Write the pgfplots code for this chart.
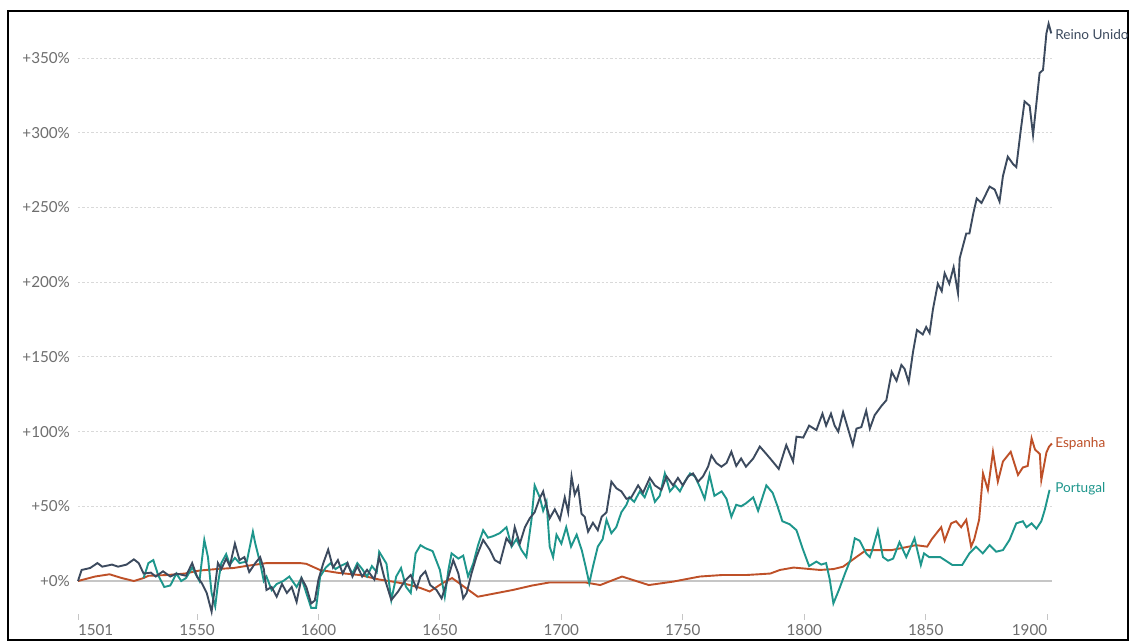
\documentclass[border=0pt]{standalone}
\usepackage{fontspec}
\setmainfont{Lato}
\usepackage{pgfplots}
\pgfplotsset{compat=1.18}
\definecolor{uk}{HTML}{3C4A5E}
\definecolor{es}{HTML}{BE5028}
\definecolor{pt}{HTML}{1E968C}
\definecolor{ticktext}{HTML}{6E6E6E}
\begin{document}
\begin{tikzpicture}
\path[use as bounding box] (0,0) rectangle (566pt,320.5pt);
\fill[white] (0,0) rectangle (566pt,320.5pt);
\draw[black, line width=1.1pt] (4pt,0.3pt) rectangle (564pt,315pt);
\begin{axis}[
  at={(39pt,13.55pt)}, anchor=south west,
  scale only axis, width=487pt, height=296.6pt,
  xmin=1501, xmax=1902, ymin=-22, ymax=375,
  clip=false,
  axis x line*=bottom, axis y line*=left,
  axis line style={draw=none},
  xtick={1501,1550,1600,1650,1700,1750,1800,1850,1900},
  xticklabels={\rlap{1501},1550,1600,1650,1700,1750,1800,1850,\llap{1900}},
  ytick={50,100,150,200,250,300,350},
  yticklabels={+50\%,+100\%,+150\%,+200\%,+250\%,+300\%,+350\%},
  extra y ticks={0},
  extra y tick labels={+0\%},
  extra y tick style={grid style={solid, draw=gray!45, line width=0.9pt}},
  ymajorgrids,
  grid style={draw=gray!30, line width=0.5pt, dash pattern=on 1.2pt off 1pt},
  ytick style={draw=none},
  xtick style={draw=gray!45, line width=0.5pt},
  major tick length=3pt,
  tick align=outside,
  tick label style={font=\fontsize{7.6}{9}\selectfont, text=ticktext},
  yticklabel style={anchor=east, xshift=2.5pt},
  xticklabel style={yshift=1.2pt},
]
% Spain
\addplot[es, line width=0.95pt] coordinates {
(1501,0) (1508,3) (1514,4.5) (1519,2) (1524,0) (1528,2) (1530,3.5) (1537.5,4) (1545,5) (1551,7) (1558,8) (1565,8.7) (1570,10) (1578.6,12) (1585,12) (1592.5,12) (1595,11.5) (1600.6,7.4) (1608,5.5) (1617,4) (1625,1) (1630.6,-0.4) (1636,-2) (1641.7,-4.5) (1645.8,-7) (1651,-1.5) (1655,2) (1659,-2.7) (1665.6,-10.5) (1672,-8.5) (1680,-6) (1688,-3) (1695,-1) (1710,-1) (1716,-2.7) (1725,3) (1736,-2.7) (1746,-0.4) (1757,3) (1766,4) (1776,4) (1786,5) (1790,7.4) (1795.6,9) (1806.5,7.4) (1812,8) (1816,9.6) (1821.4,16) (1825.5,20.7) (1836,20.7) (1846,24) (1850.6,23) (1852.5,28) (1856.4,36) (1857.8,27) (1860.5,38.6) (1862.5,40) (1864.6,36) (1866.7,41) (1868.7,23) (1870,28) (1872,41) (1873.6,72) (1875.6,61) (1877.7,86.5) (1879.7,66.5) (1881.8,80) (1885,86.5) (1888,71) (1890,76) (1892,77) (1893.6,95.5) (1895,88) (1897,85) (1897.6,67.6) (1899.7,86) (1900.8,90) (1902,92)
};
% Portugal
\addplot[pt, line width=0.95pt] coordinates {
(1528,2) (1530,12) (1532,14) (1534,4) (1536.5,-4) (1539,-3) (1541.5,5) (1543.5,0) (1545.5,2) (1548,9) (1550,3) (1551,0) (1553,27.5) (1554.5,16) (1556,-8) (1557.5,-17) (1558.6,-2) (1560,12) (1562,18) (1563.5,11) (1565.6,15.5) (1567.5,12) (1570.5,13) (1573,33) (1574,25) (1576,12) (1577.5,0) (1578.6,3) (1580.7,-6) (1582.8,-2) (1585.5,0) (1588,3) (1591,-4) (1593,2) (1595,-8) (1597,-18) (1599,-18) (1600.7,3) (1603,9) (1605,12) (1607,8) (1609,10) (1611.6,12) (1614,5) (1616,12) (1618,8) (1620,3) (1622,10) (1624,6) (1625,19.6) (1628,11.6) (1630,-12.7) (1632,3) (1634,8.7) (1636,-3.8) (1638,-8) (1640,18.5) (1642,24) (1644,22) (1647,20) (1650,7.4) (1652,-10.5) (1653.5,7.4) (1654.8,18.5) (1657.6,15) (1659.6,17) (1661.6,3) (1663.7,11.6) (1665.7,24) (1667.8,34) (1669.8,29) (1671.9,30) (1674.6,32) (1677.4,36) (1679.5,23) (1681.5,28) (1683.6,20.7) (1685.6,16) (1687.7,41) (1689,64) (1691.1,56) (1692.5,47) (1693.9,53) (1695.2,23) (1696.6,16) (1698,31) (1700,25) (1702,36) (1704,23) (1706.3,31) (1708.4,20.7) (1710,9.6) (1711.5,-1.5) (1713,9.6) (1715,23) (1717,28) (1718.6,41) (1720.6,32) (1722.6,36) (1724.7,46) (1726.8,51) (1728,56) (1730,53) (1732.3,60) (1734.3,56) (1736.4,65) (1738.5,53) (1740.5,57) (1742.6,72) (1744.7,60) (1746.8,64) (1748.8,60) (1750.8,66.5) (1753,72) (1755,70) (1757,63) (1759,55) (1761,71) (1763,57) (1766,60) (1768,55) (1770,43) (1772,51) (1774,50) (1776,52) (1779,56) (1781,47) (1784.4,64) (1787,59) (1789,50) (1791,40) (1794,38) (1796.8,34) (1799.5,21) (1802,10) (1805,13) (1807,11) (1809,12) (1810.5,1) (1812,-15) (1814.5,-5) (1817,6) (1819,14) (1820.8,28.6) (1822.8,27) (1825.5,18.5) (1827,16) (1828,20.7) (1830.3,34) (1832.4,16) (1834.5,13.6) (1836.6,15) (1839.2,26) (1842,16) (1845.4,28.6) (1848,10.7) (1849.3,18.5) (1851.4,16) (1856,16) (1861,10.7) (1865,10.7) (1868,18.5) (1870.7,23) (1873.5,18.5) (1876.3,24) (1879,19.6) (1881.8,20.7) (1884.5,27.5) (1887.3,38.6) (1890,40) (1891.5,36) (1893.6,38.6) (1895.6,35) (1897.6,40) (1899,47.5) (1901,61)
};
% United Kingdom
\addplot[uk, line width=0.95pt] coordinates {
(1501,0) (1502.5,7.4) (1506,8.7) (1509,12) (1511,9.6) (1515,11) (1517.5,9.6) (1521,11) (1524,14.5) (1526,12) (1528,5) (1531,5.6) (1533,3) (1536,6.5) (1539,3) (1541.5,5) (1545.5,3.5) (1548,12) (1550,3) (1552,-1.5) (1554,-8) (1556,-20.5) (1557.4,-3.8) (1558.6,12) (1560,8) (1562,15) (1563.5,10) (1565.6,25) (1567.5,14) (1569.5,16) (1571.5,6) (1574,12) (1576,16) (1577.5,8) (1578.6,-6) (1580.7,-4) (1582.8,-10.5) (1585,-2) (1587,-8) (1589,-4) (1591,-14) (1593,2) (1595,-4) (1597,-15) (1598.5,-13) (1600,1) (1602,12) (1604,21) (1606,9) (1608,14) (1610,5) (1612,12) (1614,3) (1616,10) (1618,3) (1620,7.5) (1623,1) (1625,16) (1627,3) (1630,-12.7) (1632.8,-7) (1635.5,0) (1638,4) (1640.4,-5) (1642,3) (1644,6.5) (1646,-2.7) (1648.6,-6) (1650.7,-11.6) (1652.8,-1) (1655.5,14) (1657.6,5) (1659.6,-11.6) (1661,-8) (1663,5) (1665,16) (1667.8,27.5) (1670.5,21) (1672.6,14) (1674.7,12) (1677.4,28.6) (1679.5,24) (1680.8,36) (1682.9,25) (1685,36) (1687,42) (1689,46) (1691,55) (1692.5,60) (1693.9,50) (1695.2,42) (1697.3,48) (1699.4,41) (1701.4,56) (1702.8,46) (1704.2,70) (1705.5,57.8) (1706.9,63) (1708.3,45) (1709.6,43) (1711,33) (1713,39) (1715,34) (1716.6,43) (1718.6,46) (1720.6,66.5) (1722.7,62) (1724.7,60) (1726.8,55) (1728.8,56) (1731.6,64) (1733.6,59) (1736.4,69) (1738.5,64) (1741.2,61) (1743.3,70) (1746,64) (1748,69) (1750,64) (1752.2,70) (1754.2,72) (1756.3,66.5) (1758.3,70) (1760.4,76.5) (1761.8,84) (1763.8,79) (1765.9,76.5) (1768,79) (1770,86.5) (1772,77) (1774,82) (1776,76.5) (1779,82) (1781.7,90) (1784.4,85) (1787,80) (1789.5,75) (1792.6,91) (1795.4,80) (1796.8,96.6) (1799.6,96) (1802,104) (1805,101) (1807.5,112) (1809,104) (1811,112) (1812.5,104) (1814,100) (1816,113) (1818,102) (1820,91) (1821.5,102) (1823.5,103) (1825.5,114) (1827,102) (1829,111) (1831.7,117) (1833.8,121) (1836,140) (1838,134) (1840,144.6) (1841.3,142) (1843,133) (1844.8,153.5) (1846.4,168) (1848.8,165) (1850.2,170) (1851.6,166) (1853,182) (1855,199) (1856.6,194) (1857.8,206) (1859.7,199) (1861.5,210) (1863.3,192.6) (1864,216) (1866.7,232.6) (1868,232.6) (1869.6,246) (1871,256) (1873,253) (1876.3,264) (1878.4,262) (1880.4,254) (1881.8,271) (1883.8,284) (1886,279) (1887.3,277) (1889,300) (1890.7,321) (1892.8,318) (1894.2,298.5) (1895.6,320) (1896.9,340) (1898.3,342) (1899.7,366.5) (1900.6,373) (1901.7,366.5)
};
\node[anchor=west, text=uk, font=\fontsize{6.8}{8}\selectfont, inner sep=0pt] at (axis cs:1903.2,366) {Reino Unido};
\node[anchor=west, text=es, font=\fontsize{6.8}{8}\selectfont, inner sep=0pt] at (axis cs:1903.2,92) {Espanha};
\node[anchor=west, text=pt, font=\fontsize{6.8}{8}\selectfont, inner sep=0pt] at (axis cs:1903.2,61.5) {Portugal};
\end{axis}
\end{tikzpicture}
\end{document}
